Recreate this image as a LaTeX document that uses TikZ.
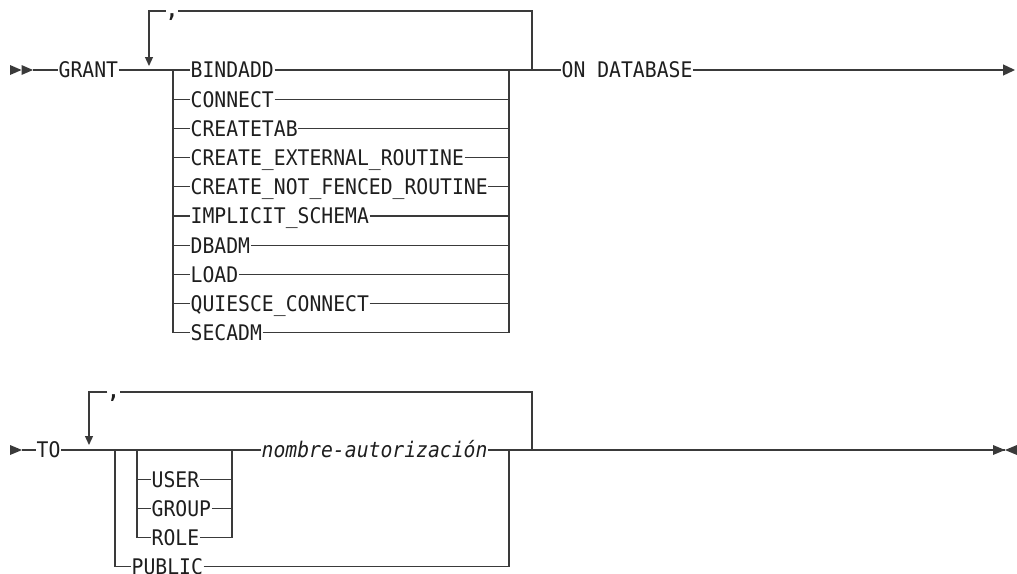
\documentclass[tikz,border=0pt]{standalone}
\usepackage{fontspec}
\newfontfamily\railfont[FakeStretch=0.918]{DejaVu Sans Mono}
\usetikzlibrary{arrows.meta}
\definecolor{railgray}{HTML}{3A3A3A}
\definecolor{railtext}{HTML}{1E1E1E}
\tikzset{
  rail/.style={draw=railgray, line width=1.3pt},
  kw/.style={anchor=west, inner xsep=0.5pt, inner ysep=0pt,
             text height=15.6pt, text depth=0pt, text=railtext,
             font=\railfont\fontsize{21.5}{24}\selectfont},
  var/.style={kw, font=\railfont\itshape\fontsize{21.5}{24}\selectfont},
  commalbl/.style={anchor=north, inner sep=0pt, text=railtext,
                   font=\railfont\bfseries\fontsize{21.5}{24}\selectfont},
  marker/.style={fill=railgray},
  looptip/.style={-{Triangle[length=9pt, width=8pt]}},
  endtip/.style={-{Triangle[length=12pt, width=11pt]}},
}

\begin{document}
\begin{tikzpicture}[x=1pt, y=-1pt]
  \useasboundingbox (0,0) rectangle (1017,573);

  % first line: GRANT ... ON DATABASE
  \fill[marker] (10,65) -- (21.5,70) -- (10,75) -- cycle;
  \fill[marker] (21.5,65) -- (33,70) -- (21.5,75) -- cycle;
  \coordinate (s1) at (33,70);
  \node[kw] (grant) at (58,70) {GRANT};
  \coordinate (b1) at (173,70);
  \coordinate (b2) at (509,70);
  \node[kw] (bindadd)  at (190,70)    {BINDADD};
  \node[kw] (connect)  at (190,99.2)  {CONNECT};
  \node[kw] (createtab) at (190,128.4) {CREATETAB};
  \node[kw] (extrout)  at (190,157.6) {CREATE\_EXTERNAL\_ROUTINE};
  \node[kw] (nfrout)   at (190,186.8) {CREATE\_NOT\_FENCED\_ROUTINE};
  \node[kw] (implicit) at (190,216)   {IMPLICIT\_SCHEMA};
  \node[kw] (dbadm)    at (190,245.2) {DBADM};
  \node[kw] (load)     at (190,274.4) {LOAD};
  \node[kw] (quiesce)  at (190,303.6) {QUIESCE\_CONNECT};
  \node[kw] (secadm)   at (190,332.8) {SECADM};
  \node[kw] (ondb) at (561,70) {ON DATABASE};
  \coordinate (e1) at (1015,70);

  \draw[rail] (s1) -- (grant);
  \draw[rail] (grant) -- (b1) -- (b1 |- secadm) -- (secadm) -- (b2 |- secadm) -- (b2);
  \draw[rail] (b1) -- (bindadd) -- (b2);
  \draw[rail] (b1 |- connect) -- (connect) -- (b2 |- connect);
  \draw[rail] (b1 |- createtab) -- (createtab) -- (b2 |- createtab);
  \draw[rail] (b1 |- extrout) -- (extrout) -- (b2 |- extrout);
  \draw[rail] (b1 |- nfrout) -- (nfrout) -- (b2 |- nfrout);
  \draw[rail] (b1 |- implicit) -- (implicit) -- (b2 |- implicit);
  \draw[rail] (b1 |- dbadm) -- (dbadm) -- (b2 |- dbadm);
  \draw[rail] (b1 |- load) -- (load) -- (b2 |- load);
  \draw[rail] (b1 |- quiesce) -- (quiesce) -- (b2 |- quiesce);
  \draw[rail] (b2) -- (ondb);
  \draw[rail, endtip] (ondb) -- (e1);

  % repeat loop
  \coordinate (rt1) at (532,11);
  \coordinate (lt1) at (149,11);
  \coordinate (dn1) at (149,66);
  \node[commalbl] (comma1) at (172,13) {,};
  \draw[rail] (rt1 |- b2) -- (rt1) -- (comma1.east |- rt1);
  \draw[rail, looptip] (comma1.west |- rt1) -- (lt1) -- (dn1);

  % second line: TO ...
  \fill[marker] (10,445) -- (22,450) -- (10,455) -- cycle;
  \coordinate (s2) at (22,450);
  \node[kw] (to) at (36,450) {TO};
  \coordinate (o1) at (115,450);
  \coordinate (o2) at (509,450);
  \coordinate (i1) at (137,450);
  \coordinate (i2) at (232,450);
  \node[kw] (user)   at (151,479.2) {USER};
  \node[kw] (group)  at (151,508.4) {GROUP};
  \node[kw] (role)   at (151,537.6) {ROLE};
  \node[kw] (public) at (131,566.8) {PUBLIC};
  \node[var] (nombre) at (261,450) {nombre-autorización};
  \coordinate (k1) at (538,450);
  \coordinate (k2) at (562,450);
  \coordinate (e2) at (1005,450);

  \draw[rail] (s2) -- (to);
  \draw[rail] (to) -- (o1) -- (o1 |- public) -- (public) -- (o2 |- public) -- (o2);
  \draw[rail] (o1) -- (i1) -- (i1 |- role) -- (role) -- (i2 |- role) -- (i2) -- (i1);
  \draw[rail] (i1 |- user) -- (user) -- (i2 |- user);
  \draw[rail] (i1 |- group) -- (group) -- (i2 |- group);
  \draw[rail] (i2) -- (nombre) -- (o2) -- (e2);
  \draw[rail, line width=2.6pt] (k1) -- (k2);
  \fill[marker] (993,445) -- (1005,450) -- (993,455) -- cycle;
  \fill[marker] (1017,445) -- (1005,450) -- (1017,455) -- cycle;

  % repeat loop
  \coordinate (rt2) at (532,392);
  \coordinate (lt2) at (89,392);
  \coordinate (dn2) at (89,445);
  \node[commalbl] (comma2) at (113.5,394) {,};
  \draw[rail] (rt2 |- o2) -- (rt2) -- (comma2.east |- rt2);
  \draw[rail, looptip] (comma2.west |- rt2) -- (lt2) -- (dn2);
\end{tikzpicture}
\end{document}
